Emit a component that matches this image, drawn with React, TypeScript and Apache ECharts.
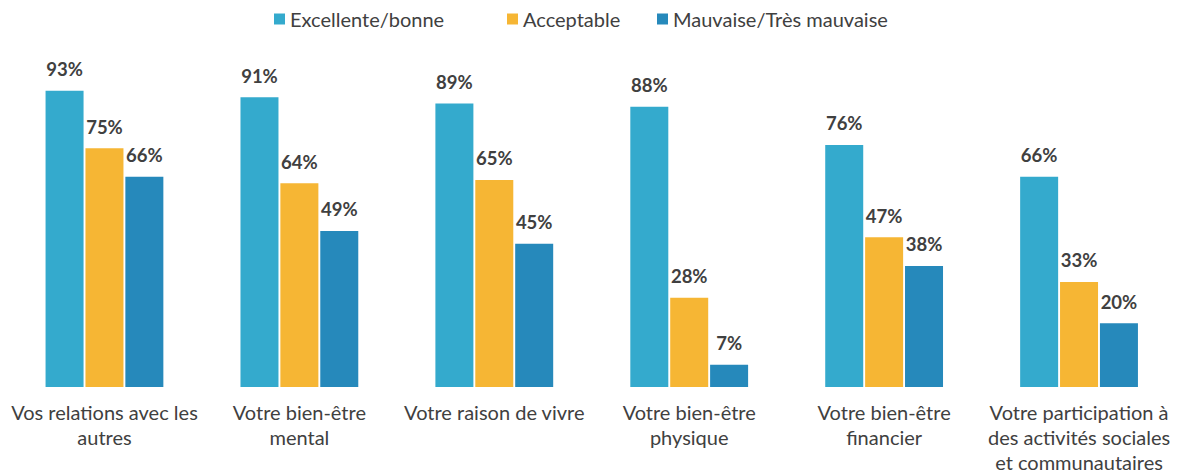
import React, { useEffect, useRef } from "react";
import * as echarts from "echarts";

const categories = [
  "Vos relations avec les\nautres",
  "Votre bien-être\nmental",
  "Votre raison de vivre",
  "Votre bien-être\nphysique",
  "Votre bien-être\nfinancier",
  "Votre participation à\ndes activités sociales\net communautaires",
];
const seriesNames = ["Excellente/bonne", "Acceptable", "Mauvaise/Très mauvaise"];
const excellente = [93, 91, 89, 88, 76, 66];
const acceptable = [75, 64, 65, 28, 47, 33];
const mauvaise = [66, 49, 45, 7, 38, 20];
const colors = ["#34AACD", "#F6B634", "#2689BB"];
const legendLefts = [274, 507, 657];

const FONT = "Lato";

export default function App() {
  const ref = useRef<HTMLDivElement>(null);
  useEffect(() => {
    document.body.style.margin = "0";
    const chart = echarts.init(ref.current!, null, { renderer: "svg" });
    const values = [excellente, acceptable, mauvaise];
    chart.setOption({
      animation: false,
      textStyle: { fontFamily: FONT },
      legend: seriesNames.map((name, i) => ({
        top: 9,
        left: legendLefts[i],
        padding: 0,
        itemWidth: 11,
        itemHeight: 11,
        icon: "rect",
        textStyle: { fontFamily: FONT, fontSize: 20, color: "#404040" },
        data: [name],
      })),
      grid: { left: 7, right: 4.5, top: 68.5, bottom: 85.7, containLabel: false },
      xAxis: {
        type: "category",
        data: categories,
        axisLine: { show: false },
        axisTick: { show: false },
        axisLabel: {
          interval: 0,
          margin: 12,
          fontFamily: FONT,
          fontSize: 20,
          lineHeight: 25,
          color: "#404040",
        },
      },
      yAxis: { type: "value", min: 0, max: 100, show: false },
      series: seriesNames.map((name, i) => ({
        name,
        type: "bar",
        data: values[i],
        barWidth: 38,
        barGap: "5%",
        itemStyle: { color: colors[i] },
        label: {
          show: true,
          position: "top",
          distance: 12,
          formatter: "{c}%",
          fontFamily: FONT,
          fontWeight: "bold",
          fontSize: 18.5,
          color: "#404040",
        },
      })),
    });
    return () => chart.dispose();
  }, []);
  return <div ref={ref} style={{ width: 1181, height: 474 }} />;
}
